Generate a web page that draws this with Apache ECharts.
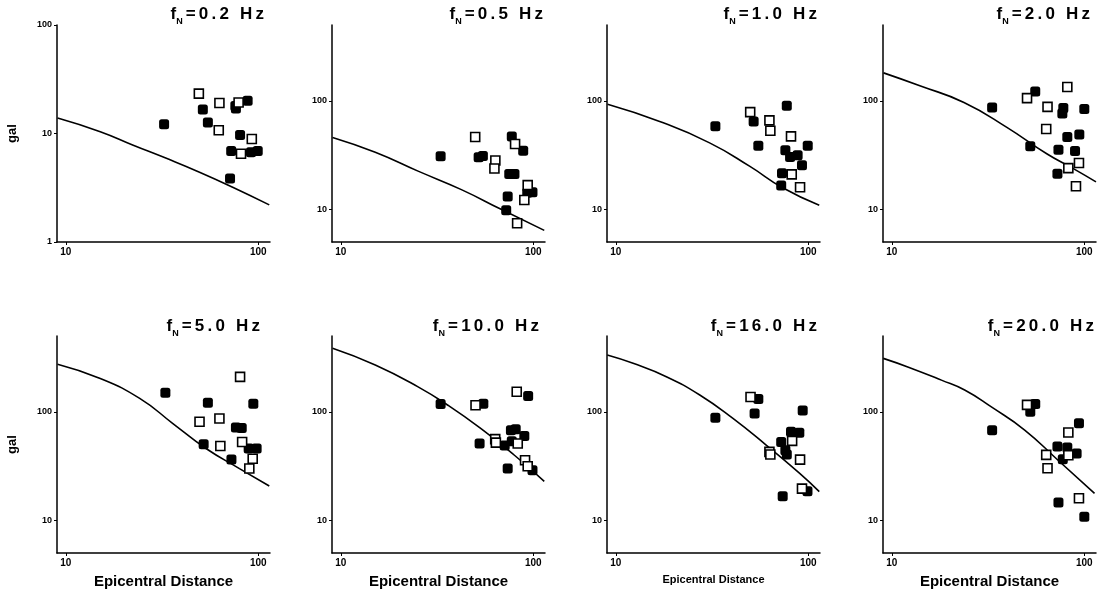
<!DOCTYPE html>
<html>
<head>
<meta charset="utf-8">
<script src="https://cdn.jsdelivr.net/npm/echarts@6/dist/echarts.min.js"></script>
<style>html,body{margin:0;padding:0;background:#fff}#c{width:1100px;height:593px}</style>
</head>
<body>
<div id="c"></div>
<script>
// ---- data ----
const freqLabels = ['0.2', '0.5', '1.0', '2.0', '5.0', '10.0', '16.0', '20.0'];
const xTickValues = [10, 100];
const yTickValuesFirst = [1, 10, 100];
const yTickValuesOther = [10, 100];

const curve02 = [[9.06,13.9],[15.1,10.4],[22.4,7.8],[33.3,5.9],[49.5,4.4],[73.6,3.2],[114,2.2]];
const filled02 = [[32.4,12.2],[51.5,16.6],[54.7,12.6],[76,17.9],[76.5,17],[88,20],[80.4,9.7],[72.3,6.9],[71.3,3.85],[91.6,6.7],[99.3,6.9]];
const open02 = [[49.1,23.3],[62.8,19.1],[62.3,10.7],[79,19.3],[81.3,6.5],[92.5,8.9]];

const curve05 = [[9.06,46],[15.1,33.6],[25.2,22.5],[42.3,15.2],[68,10],[114,6.4]];
const filled05 = [[33,30.8],[52,30.2],[54.7,31],[77.3,47],[75,21.2],[79.8,21.2],[73.6,13.1],[72.3,9.8],[88.6,34.7],[93,14.2],[99,14.4]];
const open05 = [[49.9,46.4],[63.5,28.2],[62.8,23.8],[80.4,40],[93.5,16.7],[89.8,12.2],[82.4,7.45]];

const curve10 = [[9.06,93],[16.9,64.5],[30.7,41],[49.5,25],[73.6,15.8],[114,10.9]];
const filled10 = [[32.9,58.2],[52,64.6],[55,38.6],[77.3,90],[76,35],[80.4,30.4],[88,31.5],[92.7,25.5],[99.3,38.6],[73,21.5],[72.3,16.6]];
const open10 = [[49.9,78.7],[62.8,66],[63.5,53],[81.3,47],[82,21],[90.6,16]];

const curve20 = [[9.06,181],[14.1,137],[23.7,96.6],[39.6,57],[63.8,32.5],[87.7,23.7],[115,17.9]];
const filled20 = [[33.2,86.9],[55.6,122],[52.4,38.2],[77.8,85.8],[76.9,76.5],[73.4,35.4],[81.6,46.3],[94.2,48.9],[89.5,34.4],[100,84],[72.5,21.3]];
const open20 = [[50.4,106],[64.4,88],[63.4,55],[81.6,134],[82.6,24],[93.8,26.7],[90.5,16.3]];

const curve50 = [[9.06,275],[15.1,203],[24.2,133],[36,78],[53.5,45.9],[79.8,30],[114,20.7]];
const filled50 = [[32.9,150],[54.7,121],[52,50.3],[76.5,71.7],[82,71],[94.2,119],[89.1,45.9],[98,45.9],[72.5,36.3]];
const open50 = [[49.5,81],[62.8,86.7],[63.5,48.5],[80.4,210],[82.4,52.8],[93.5,37],[89.8,30]];

const curve100 = [[9.06,385],[15.1,270],[25.2,170],[36,115],[53.5,70],[79.8,39.8],[114,22.9]];
const filled100 = [[33,118],[55,119],[52.6,51],[94,140],[76.5,67.7],[81,69],[89.8,60],[77.3,53.6],[71,49],[73.6,30],[99,29]];
const open100 = [[50.1,115],[63.4,56],[63.9,52],[82,153],[83,51],[90.6,35.8],[93.5,31.5]];

const curve160 = [[9.03,334],[12.3,280],[18.3,211],[27.3,143],[40.6,87],[60.4,49.4],[89.9,27.2],[114,18.4]];
const filled160 = [[32.9,88],[55,131],[52.6,96.5],[93.5,103],[81.3,65.4],[89.8,64],[72.3,52.8],[76,44.3],[77.3,40.4],[73.6,16.7],[99,18.5]];
const open160 = [[50.1,137],[62.8,42.8],[63.5,40.4],[82.4,54],[90.6,36.3],[92.7,19.6]];

const curve200 = [[9.03,311],[12.2,258],[18.1,196],[23.9,159],[32.9,111],[49,68],[72.8,36],[113,17.7]];
const filled200 = [[33.2,67.8],[52.4,100],[55.6,118],[93.8,78.5],[72.5,47.9],[81.6,46.9],[91.2,41.2],[77.3,36.6],[73.4,14.6],[100,10.8]];
const open200 = [[50.4,116],[82.6,64.4],[63.4,40.1],[64.4,30.2],[82.6,39.8],[93.8,16]];

const curves = [curve02, curve05, curve10, curve20, curve50, curve100, curve160, curve200];
const filledSets = [filled02, filled05, filled10, filled20, filled50, filled100, filled160, filled200];
const openSets = [open02, open05, open10, open20, open50, open100, open160, open200];

// ---- layout ----
const lefts = [57, 332, 607, 883];
const tops = [25, 336];
const gw = 213, gh = 217;
const titleRights = [[264, 543, 817, 1090], [260, 539, 817, 1094]];
const titleTops = [6, 318];
const FONT = 'Liberation Sans, Arial, sans-serif';

function titleText(freq) {
  let s = '{f|f}{s|N}';
  for (const ch of ('=' + freq + ' Hz')) s += '{c|' + ch + '}';
  return s;
}

const grid = [], xAxis = [], yAxis = [], series = [], title = [];
for (let i = 0; i < 8; i++) {
  const row = Math.floor(i / 4), col = i % 4;
  grid.push({ left: lefts[col], top: tops[row], width: gw, height: gh });
  const bottomRow = row === 1;
  xAxis.push({
    type: 'log', gridIndex: i, min: 9, max: 115, logBase: 10,
    name: bottomRow ? 'Epicentral Distance' : '',
    nameLocation: 'middle', nameGap: 21,
    nameTextStyle: { fontFamily: FONT, fontWeight: 'bold', fontSize: i === 6 ? 11 : 15, color: '#000' },
    axisLine: { lineStyle: { color: '#000', width: 1.5 } },
    axisTick: { length: 3, lineStyle: { color: '#000' }, customValues: xTickValues },
    axisLabel: { fontFamily: FONT, fontWeight: 'bold', fontSize: 10, color: '#000', margin: 5, customValues: xTickValues },
    splitLine: { show: false }
  });
  const yTicks = i === 0 ? yTickValuesFirst : yTickValuesOther;
  yAxis.push({
    type: 'log', gridIndex: i, logBase: 10,
    min: i === 0 ? 1 : 5, max: i === 0 ? 100 : 500,
    name: col === 0 ? 'gal' : '',
    nameLocation: 'middle', nameGap: 38, nameRotate: 90,
    nameTextStyle: { fontFamily: FONT, fontWeight: 'bold', fontSize: 13, color: '#000' },
    axisLine: { lineStyle: { color: '#000', width: 1.5 } },
    axisTick: { length: 3, lineStyle: { color: '#000' }, customValues: yTicks },
    axisLabel: { fontFamily: FONT, fontWeight: 'bold', fontSize: 9, color: '#000', margin: 5, customValues: yTicks },
    splitLine: { show: false }
  });
  title.push({
    text: titleText(freqLabels[i]),
    right: 1100 - titleRights[row][col], top: titleTops[row],
    padding: 0,
    textStyle: {
      fontWeight: 'bold',
      rich: {
        f: { fontFamily: FONT, fontSize: 17, fontWeight: 'bold', color: '#000', verticalAlign: 'bottom', padding: [0, 0, 3, 0] },
        s: { fontFamily: FONT, fontSize: 9, fontWeight: 'bold', color: '#000', verticalAlign: 'bottom', padding: [0, 1.5, 0, 0] },
        c: { fontFamily: FONT, fontSize: 17, fontWeight: 'bold', color: '#000', verticalAlign: 'bottom', padding: [0, 1.6, 3, 1.6] }
      }
    }
  });
  series.push({
    type: 'line', xAxisIndex: i, yAxisIndex: i, data: curves[i], smooth: 0.5,
    showSymbol: false, symbol: 'none', lineStyle: { color: '#000', width: 1.6 }, z: 2, silent: true
  });
  series.push({
    type: 'scatter', xAxisIndex: i, yAxisIndex: i, data: filledSets[i],
    symbol: 'roundRect', symbolSize: 10, itemStyle: { color: '#000', opacity: 1 }, z: 3
  });
  series.push({
    type: 'scatter', xAxisIndex: i, yAxisIndex: i, data: openSets[i],
    symbol: 'rect', symbolSize: 9, itemStyle: { color: '#fff', borderColor: '#000', borderWidth: 1.6, opacity: 1 }, z: 4
  });
}

const chart = echarts.init(document.getElementById('c'), null, { renderer: 'canvas' });
chart.setOption({ animation: false, backgroundColor: '#fff', title, grid, xAxis, yAxis, series });
</script>
</body>
</html>
